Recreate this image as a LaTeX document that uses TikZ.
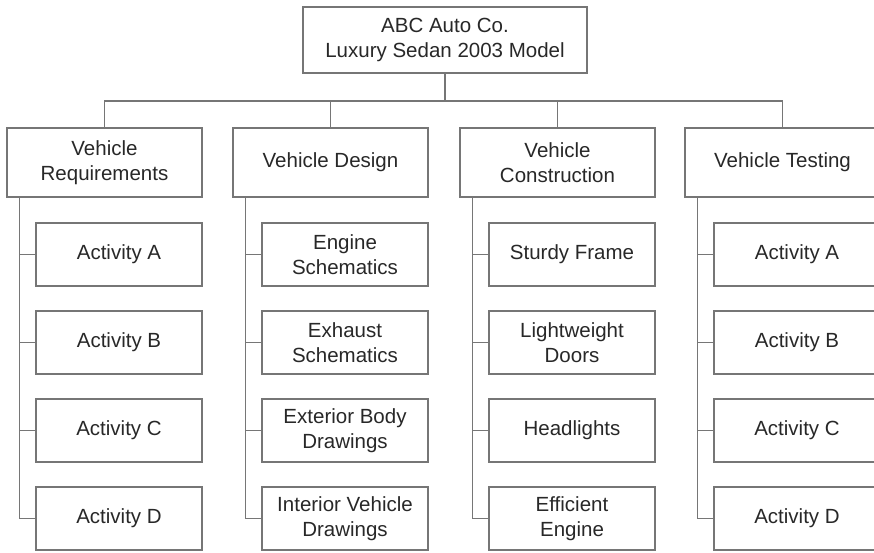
\documentclass[tikz,border=0pt]{standalone}
\usepackage{fontspec}
\setmainfont{Liberation Sans}
\definecolor{linegray}{RGB}{118,118,118}
\definecolor{textgray}{RGB}{40,40,40}
\begin{document}
\begin{tikzpicture}[x=1pt,y=-1pt,
  box/.style={draw=linegray,line width=1.3pt,fill=white,inner sep=0pt,align=center,
    text=textgray,font=\fontsize{20.5}{25}\selectfont},
  topbox/.style={box,minimum width=284pt,minimum height=66pt},
  parentbox/.style={box,minimum width=195pt,minimum height=69pt},
  childbox/.style={box,minimum width=166pt,minimum height=63pt},
  conn/.style={draw=linegray,line width=1.3pt}]
\useasboundingbox (0,0) rectangle (874,552);
\clip (0,0) rectangle (874,552);
\node[topbox] (top) at (445,40) {ABC Auto Co.\\Luxury Sedan 2003 Model};
\coordinate (bar) at (445,101);
% parents
\node[parentbox] (p1) at (104.5,162.5) {Vehicle\\Requirements};
\node[parentbox] (p2) at (330.5,162.5) {Vehicle Design};
\node[parentbox] (p3) at (557.5,162.5) {Vehicle\\Construction};
\node[parentbox] (p4) at (782.5,162.5) {Vehicle Testing};
% children column 1
\node[childbox] (c11) at (119,254.5) {Activity A};
\node[childbox] (c12) at (119,342.5) {Activity B};
\node[childbox] (c13) at (119,430.5) {Activity C};
\node[childbox] (c14) at (119,518.5) {Activity D};
% column 2
\node[childbox] (c21) at (345,254.5) {Engine\\Schematics};
\node[childbox] (c22) at (345,342.5) {Exhaust\\Schematics};
\node[childbox] (c23) at (345,430.5) {Exterior Body\\Drawings};
\node[childbox] (c24) at (345,518.5) {Interior Vehicle\\Drawings};
% column 3
\node[childbox] (c31) at (572,254.5) {Sturdy Frame};
\node[childbox] (c32) at (572,342.5) {Lightweight\\Doors};
\node[childbox] (c33) at (572,430.5) {Headlights};
\node[childbox] (c34) at (572,518.5) {Efficient\\Engine};
% column 4
\node[childbox] (c41) at (797,254.5) {Activity A};
\node[childbox] (c42) at (797,342.5) {Activity B};
\node[childbox] (c43) at (797,430.5) {Activity C};
\node[childbox] (c44) at (797,518.5) {Activity D};
% connectors
\draw[conn] (top.south) -- (bar);
\foreach \p in {p1,p2,p3,p4} {
  \draw[conn] (\p.north) |- (bar);
}
\foreach \i in {1,2,3,4} {
  \foreach \j in {1,2,3,4} {
    \draw[conn] ([xshift=13pt]p\i.south west) |- (c\i\j.west);
  }
}
\end{tikzpicture}
\end{document}
